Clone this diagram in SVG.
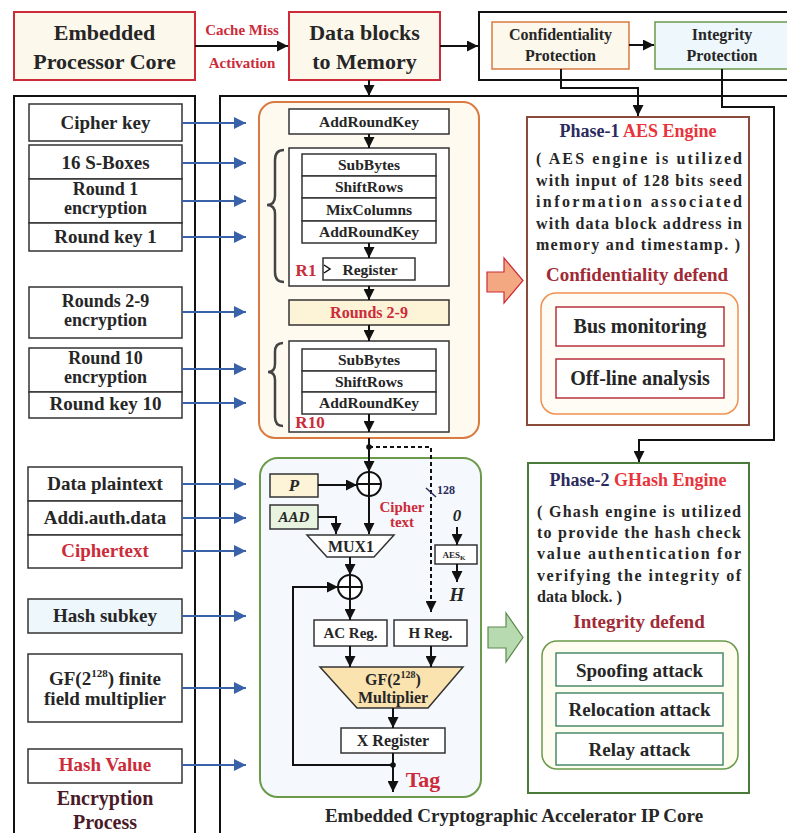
<svg xmlns="http://www.w3.org/2000/svg" width="787" height="833" viewBox="0 0 787 833">
  <style>
    .t{font-family:"Liberation Serif","Times New Roman",serif;font-weight:bold;fill:#262626;text-anchor:middle}
    .red{fill:#cc2b3a}
    .navy{fill:#2b2b5e}
    .dred{fill:#a02a35}
    .it{font-style:italic}
    .box{fill:#fff;stroke:#333;stroke-width:1.5}
    .frame{fill:none;stroke:#111;stroke-width:2}
    .wire{fill:none;stroke:#111;stroke-width:2}
    .blue{fill:none;stroke:#3a62a8;stroke-width:1.8}
    .para{font-family:"Liberation Serif","Times New Roman",serif;font-weight:bold;fill:#262626;font-size:16px}
  </style>
  <defs>
    <marker id="ah" viewBox="0 0 10 10" refX="10" refY="5" markerWidth="11" markerHeight="11" orient="auto" markerUnits="userSpaceOnUse">
      <path d="M0,0 L10,5 L0,10 z" fill="#111"/>
    </marker>
    <marker id="ahb" viewBox="0 0 10 10" refX="10" refY="5" markerWidth="12" markerHeight="12" orient="auto" markerUnits="userSpaceOnUse">
      <path d="M0,0 L10,5 L0,10 z" fill="#3a62a8"/>
    </marker>
  </defs>

  <rect width="787" height="833" fill="#fff"/>

  <!-- outer frames -->
  <rect class="frame" x="479" y="12" width="330" height="68"/>
  <rect class="frame" x="14" y="96" width="181" height="760"/>
  <rect class="frame" x="220" y="96" width="600" height="760"/>

  <!-- top row -->
  <g id="processor">
    <rect x="14" y="12" width="181" height="68" fill="#fdf8ec" stroke="#cc2b3a" stroke-width="2"/>
    <text class="t" x="104.5" y="40" font-size="22">Embedded</text>
    <text class="t" x="104.5" y="69" font-size="22">Processor Core</text>
  </g>
  <g id="memory">
    <rect x="289" y="12" width="151" height="68" fill="#fdf8ec" stroke="#cc2b3a" stroke-width="2"/>
    <text class="t" x="364.5" y="40" font-size="22">Data blocks</text>
    <text class="t" x="364.5" y="69" font-size="22">to Memory</text>
  </g>
  <g id="conf-prot">
    <rect x="492" y="22" width="137" height="47" fill="#fdf8ec" stroke="#d97a40" stroke-width="1.5"/>
    <text class="t" x="560.5" y="40" font-size="16">Confidentiality</text>
    <text class="t" x="560.5" y="61" font-size="16">Protection</text>
  </g>
  <g id="int-prot">
    <rect x="655" y="22" width="140" height="47" fill="#eef7fb" stroke="#6b9a4a" stroke-width="1.5"/>
    <text class="t" x="722" y="40" font-size="16">Integrity</text>
    <text class="t" x="722" y="61" font-size="16">Protection</text>
  </g>
  <text class="t red" x="242" y="35" font-size="15">Cache Miss</text>
  <text class="t red" x="242" y="68" font-size="15">Activation</text>

  <!-- left column: encryption process inputs -->
  <g id="cipher-key"><rect class="box" x="29" y="104" width="153" height="37"/><text class="t" x="105.5" y="129" font-size="19">Cipher key</text></g>
  <g id="sboxes"><rect class="box" x="29" y="145" width="153" height="34"/><text class="t" x="105.5" y="169" font-size="19">16 S-Boxes</text></g>
  <g id="round1"><rect class="box" x="29" y="179" width="153" height="44"/><text class="t" x="105.5" y="195" font-size="18">Round 1</text><text class="t" x="105.5" y="214" font-size="18">encryption</text></g>
  <g id="roundkey1"><rect class="box" x="29" y="223" width="153" height="28"/><text class="t" x="105.5" y="243" font-size="19">Round key 1</text></g>
  <g id="rounds29"><rect class="box" x="29" y="287" width="153" height="51"/><text class="t" x="105.5" y="307" font-size="18">Rounds 2-9</text><text class="t" x="105.5" y="326" font-size="18">encryption</text></g>
  <g id="round10"><rect class="box" x="29" y="348" width="153" height="44"/><text class="t" x="105.5" y="364" font-size="18">Round 10</text><text class="t" x="105.5" y="383" font-size="18">encryption</text></g>
  <g id="roundkey10"><rect class="box" x="29" y="392" width="153" height="26"/><text class="t" x="105.5" y="410" font-size="19">Round key 10</text></g>
  <g id="plaintext"><rect class="box" x="28" y="467" width="154" height="34"/><text class="t" x="105" y="490" font-size="19">Data plaintext</text></g>
  <g id="aad-in"><rect class="box" x="28" y="501" width="154" height="34"/><text class="t" x="105" y="524" font-size="19">Addi.auth.data</text></g>
  <g id="ciphertext"><rect class="box" x="28" y="535" width="154" height="33"/><text class="t red" x="105" y="557" font-size="19">Ciphertext</text></g>
  <g id="hash-subkey"><rect x="28" y="599" width="154" height="34" fill="#eef7fb" stroke="#333" stroke-width="1.5"/><text class="t" x="105" y="622" font-size="19">Hash subkey</text></g>
  <g id="gf-mult-in"><rect class="box" x="28" y="654" width="154" height="68"/>
    <text class="t" x="105" y="685" font-size="19">GF(2<tspan font-size="11" dy="-8">128</tspan><tspan dy="8">) finite</tspan></text>
    <text class="t" x="105" y="705" font-size="19">field multiplier</text></g>
  <g id="hash-value"><rect class="box" x="28" y="749" width="154" height="34"/><text class="t red" x="105" y="771" font-size="19">Hash Value</text></g>
  <text class="t" x="105" y="805" font-size="20" style="fill:#4a1a28">Encryption</text>
  <text class="t" x="105" y="829" font-size="20" style="fill:#4a1a28">Process</text>

  <!-- AES engine block -->
  <g id="aes-core">
    <rect x="259" y="102" width="220" height="336" rx="16" fill="#fffaf0" stroke="#d97a40" stroke-width="2"/>
    <rect class="box" x="289" y="109" width="160" height="25"/>
    <text class="t" x="369" y="127" font-size="15.5">AddRoundKey</text>
    <rect class="box" x="289" y="148" width="160" height="138"/>
    <rect class="box" x="302" y="154" width="134" height="22"/>
    <rect class="box" x="302" y="176" width="134" height="22"/>
    <rect class="box" x="302" y="198" width="134" height="23"/>
    <rect class="box" x="302" y="221" width="134" height="22"/>
    <text class="t" x="369" y="170" font-size="15.5">SubBytes</text>
    <text class="t" x="369" y="192" font-size="15.5">ShiftRows</text>
    <text class="t" x="369" y="215" font-size="15.5">MixColumns</text>
    <text class="t" x="369" y="237" font-size="15.5">AddRoundKey</text>
    <rect class="box" x="323" y="258" width="92" height="22"/>
    <path d="M324,265 L330,269 L324,273" fill="none" stroke="#111" stroke-width="1.5"/>
    <text class="t" x="370" y="275" font-size="15.5">Register</text>
    <text class="t red" x="306" y="276" font-size="17">R1</text>
    <path d="M284,150 Q275,150 275,160 L275,196 Q275,205 267,205 Q275,205 275,214 L275,272 Q275,282 284,282" fill="none" stroke="#444" stroke-width="2.5"/>
    <rect x="289" y="300" width="160" height="25" fill="#fdf3d6" stroke="#333" stroke-width="1.5"/>
    <text class="t red" x="369" y="318" font-size="16">Rounds 2-9</text>
    <rect class="box" x="289" y="341" width="160" height="91"/>
    <rect class="box" x="302" y="349" width="134" height="22"/>
    <rect class="box" x="302" y="371" width="134" height="21"/>
    <rect class="box" x="302" y="392" width="134" height="22"/>
    <text class="t" x="369" y="365" font-size="15.5">SubBytes</text>
    <text class="t" x="369" y="387" font-size="15.5">ShiftRows</text>
    <text class="t" x="369" y="408" font-size="15.5">AddRoundKey</text>
    <text class="t red" x="310" y="428" font-size="17">R10</text>
    <path d="M283,343 Q275,343 275,352 L275,364 Q275,372 268,372 Q275,372 275,380 L275,417 Q275,426 283,426" fill="none" stroke="#444" stroke-width="2.5"/>
  </g>

  <!-- GHash engine block -->
  <g id="ghash-core">
    <rect x="260" y="458" width="221" height="339" rx="18" fill="#f5f9fd" stroke="#6b9a4a" stroke-width="2"/>
    <rect x="270" y="474" width="48" height="23" fill="#fdf3d6" stroke="#333" stroke-width="1.5"/>
    <text class="t it" x="294" y="491" font-size="17">P</text>
    <rect x="270" y="505" width="48" height="24" fill="#e8f3e0" stroke="#333" stroke-width="1.5"/>
    <text class="t it" x="294" y="522" font-size="15">AAD</text>
    <circle cx="369" cy="484" r="12" fill="#fff" stroke="#111" stroke-width="2"/>
    <path d="M357,484 H381 M369,472 V496" stroke="#111" stroke-width="2"/>
    <path d="M307,535 H394 L374,557 H327 Z" fill="#fff" stroke="#333" stroke-width="1.5"/>
    <text class="t" x="351" y="552" font-size="16">MUX1</text>
    <circle cx="350" cy="587" r="12" fill="#fff" stroke="#111" stroke-width="2"/>
    <path d="M338,587 H362 M350,575 V599" stroke="#111" stroke-width="2"/>
    <rect class="box" x="314" y="620" width="73" height="26"/>
    <text class="t" x="350.5" y="638" font-size="15">AC Reg.</text>
    <rect class="box" x="394" y="620" width="73" height="26"/>
    <text class="t" x="430.5" y="638" font-size="15">H Reg.</text>
    <path d="M320,667 H463 L428,708 H357 Z" fill="#fbe3b0" stroke="#333" stroke-width="1.5"/>
    <text class="t" x="393" y="685" font-size="16">GF(2<tspan font-size="10" dy="-7">128</tspan><tspan dy="7">)</tspan></text>
    <text class="t" x="393" y="703" font-size="16">Multiplier</text>
    <rect class="box" x="341" y="728" width="104" height="25"/>
    <text class="t" x="393" y="746" font-size="16">X Register</text>
    <text class="t red" x="423" y="787" font-size="22">Tag</text>
    <text class="t red" x="402" y="512" font-size="15">Cipher</text>
    <text class="t red" x="402" y="527" font-size="15">text</text>
    <text class="t navy" x="446" y="494" font-size="12">128</text>
    <text class="t it" x="457" y="521" font-size="17">0</text>
    <rect class="box" x="435" y="545" width="42" height="19"/>
    <text class="t" x="454" y="558" font-size="9">AES<tspan font-size="7" dy="2">K</tspan></text>
    <text class="t it" x="457" y="601" font-size="19">H</text>
  </g>

  <!-- phase panels -->
  <g id="phase1">
    <rect x="527" y="117" width="222" height="308" fill="#fff" stroke="#8a4a3c" stroke-width="2"/>
    <text class="t" x="638" y="137" font-size="18"><tspan class="navy">Phase-1 </tspan><tspan style="fill:#e8343c">AES Engine</tspan></text>
    <text class="para" x="536" y="164" textLength="206" lengthAdjust="spacing">( AES engine is utilized</text>
    <text class="para" x="536" y="186" textLength="206" lengthAdjust="spacing">with input of 128 bits seed</text>
    <text class="para" x="536" y="207" textLength="206" lengthAdjust="spacing">information associated</text>
    <text class="para" x="536" y="229" textLength="206" lengthAdjust="spacing">with data block address in</text>
    <text class="para" x="536" y="250" textLength="204" lengthAdjust="spacing">memory and timestamp. )</text>
    <text class="t dred" x="637" y="281" font-size="19">Confidentiality defend</text>
    <rect x="541" y="293" width="197" height="121" rx="15" fill="#fffcf5" stroke="#f09050" stroke-width="1.5"/>
    <rect x="556" y="307" width="168" height="39" fill="#fff" stroke="#b8323c" stroke-width="1.5"/>
    <text class="t" x="640" y="333" font-size="20">Bus monitoring</text>
    <rect x="556" y="359" width="168" height="39" fill="#fff" stroke="#b8323c" stroke-width="1.5"/>
    <text class="t" x="640" y="385" font-size="20">Off-line analysis</text>
  </g>
  <g id="phase2">
    <rect x="528" y="463" width="221" height="330" fill="#fff" stroke="#4a7a3a" stroke-width="2"/>
    <text class="t" x="638" y="486" font-size="18"><tspan class="navy">Phase-2 </tspan><tspan style="fill:#e8343c">GHash Engine</tspan></text>
    <text class="para" x="537" y="517" textLength="204" lengthAdjust="spacing">( Ghash engine is utilized</text>
    <text class="para" x="537" y="538" textLength="204" lengthAdjust="spacing">to provide the hash check</text>
    <text class="para" x="537" y="559" textLength="204" lengthAdjust="spacing">value authentication for</text>
    <text class="para" x="537" y="581" textLength="204" lengthAdjust="spacing">verifying the integrity of</text>
    <text class="para" x="537" y="602">data block. )</text>
    <text class="t dred" x="639" y="628" font-size="19">Integrity defend</text>
    <rect x="542" y="641" width="196" height="128" rx="15" fill="#fffcf0" stroke="#6b9a4a" stroke-width="1.5"/>
    <rect x="556" y="653" width="167" height="33" fill="#fff" stroke="#4a8a6a" stroke-width="1.5"/>
    <text class="t" x="639.5" y="677" font-size="19">Spoofing attack</text>
    <rect x="556" y="693" width="167" height="33" fill="#fff" stroke="#4a8a6a" stroke-width="1.5"/>
    <text class="t" x="639.5" y="716" font-size="19">Relocation attack</text>
    <rect x="556" y="733" width="167" height="32" fill="#fff" stroke="#4a8a6a" stroke-width="1.5"/>
    <text class="t" x="639.5" y="756" font-size="19">Relay attack</text>
  </g>

  <!-- block arrows -->
  <g id="to-phase1"><path d="M487,272 H504 V258 L523,280.5 L504,303 V292 H487 Z" fill="#f4a882" stroke="#cc2b3a" stroke-width="1.2"/></g>
  <g id="to-phase2"><path d="M488,627 H506 V613 L523,637.5 L506,662 V648 H488 Z" fill="#b8dab0" stroke="#5a8a4a" stroke-width="1.2"/></g>

  <text class="t" x="514" y="822" font-size="19">Embedded Cryptographic Accelerator IP Core</text>

  <!-- connectors -->
  <g id="connectors">
    <path class="wire" d="M195,46 H288" marker-end="url(#ah)"/>
    <path class="wire" d="M440,46 H478" marker-end="url(#ah)"/>
    <path class="wire" d="M629,45 H654" marker-end="url(#ah)"/>
    <path class="wire" d="M369,80 V96" marker-end="url(#ah)"/>
    <path class="wire" d="M561,69 V88 H638 V116" marker-end="url(#ah)"/>
    <path class="wire" d="M722,69 V107 H774 V440 H639 V462" marker-end="url(#ah)"/>

    <path class="blue" d="M182,123 H246" marker-end="url(#ahb)"/>
    <path class="blue" d="M182,163 H246" marker-end="url(#ahb)"/>
    <path class="blue" d="M182,201 H246" marker-end="url(#ahb)"/>
    <path class="blue" d="M182,237 H246" marker-end="url(#ahb)"/>
    <path class="blue" d="M182,312 H246" marker-end="url(#ahb)"/>
    <path class="blue" d="M182,369 H246" marker-end="url(#ahb)"/>
    <path class="blue" d="M182,403 H246" marker-end="url(#ahb)"/>
    <path class="blue" d="M182,484 H246" marker-end="url(#ahb)"/>
    <path class="blue" d="M182,518 H246" marker-end="url(#ahb)"/>
    <path class="blue" d="M182,551 H246" marker-end="url(#ahb)"/>
    <path class="blue" d="M182,616 H246" marker-end="url(#ahb)"/>
    <path class="blue" d="M182,688 H246" marker-end="url(#ahb)"/>
    <path class="blue" d="M182,765 H246" marker-end="url(#ahb)"/>

    <!-- AES datapath -->
    <path class="wire" d="M369,134 V148" marker-end="url(#ah)"/>
    <path class="wire" d="M369,243 V258" marker-end="url(#ah)"/>
    <path class="wire" d="M369,286 V300" marker-end="url(#ah)"/>
    <path class="wire" d="M369,325 V341" marker-end="url(#ah)"/>
    <path class="wire" d="M369,414 V432" marker-end="url(#ah)"/>

    <!-- GHash datapath -->
    <path class="wire" d="M369,438 V472" marker-end="url(#ah)"/>
    <circle cx="369" cy="447" r="2.8" fill="#111"/>
    <path d="M369,447 H431 V612" fill="none" stroke="#111" stroke-width="2" stroke-dasharray="4,3" marker-end="url(#ah)"/>
    <path d="M426,488 L436,497" stroke="#2b2b5e" stroke-width="1.5"/>
    <path class="wire" d="M318,485 H357" marker-end="url(#ah)"/>
    <path class="wire" d="M318,517 H336 V534" marker-end="url(#ah)"/>
    <path class="wire" d="M369,496 V534" marker-end="url(#ah)"/>
    <path class="wire" d="M350,557 V575" marker-end="url(#ah)"/>
    <path class="wire" d="M350,599 V620" marker-end="url(#ah)"/>
    <path class="wire" d="M350,646 V667" marker-end="url(#ah)"/>
    <path class="wire" d="M431,646 V667" marker-end="url(#ah)"/>
    <path class="wire" d="M393,708 V728" marker-end="url(#ah)"/>
    <path class="wire" d="M393,753 V792" marker-end="url(#ah)"/>
    <path class="wire" d="M393,765 H293 V587 H338" marker-end="url(#ah)"/>
    <circle cx="393" cy="765" r="2.8" fill="#111"/>
    <path class="wire" d="M457,527 V545" marker-end="url(#ah)"/>
    <path class="wire" d="M457,564 V582" marker-end="url(#ah)"/>
  </g>
</svg>
